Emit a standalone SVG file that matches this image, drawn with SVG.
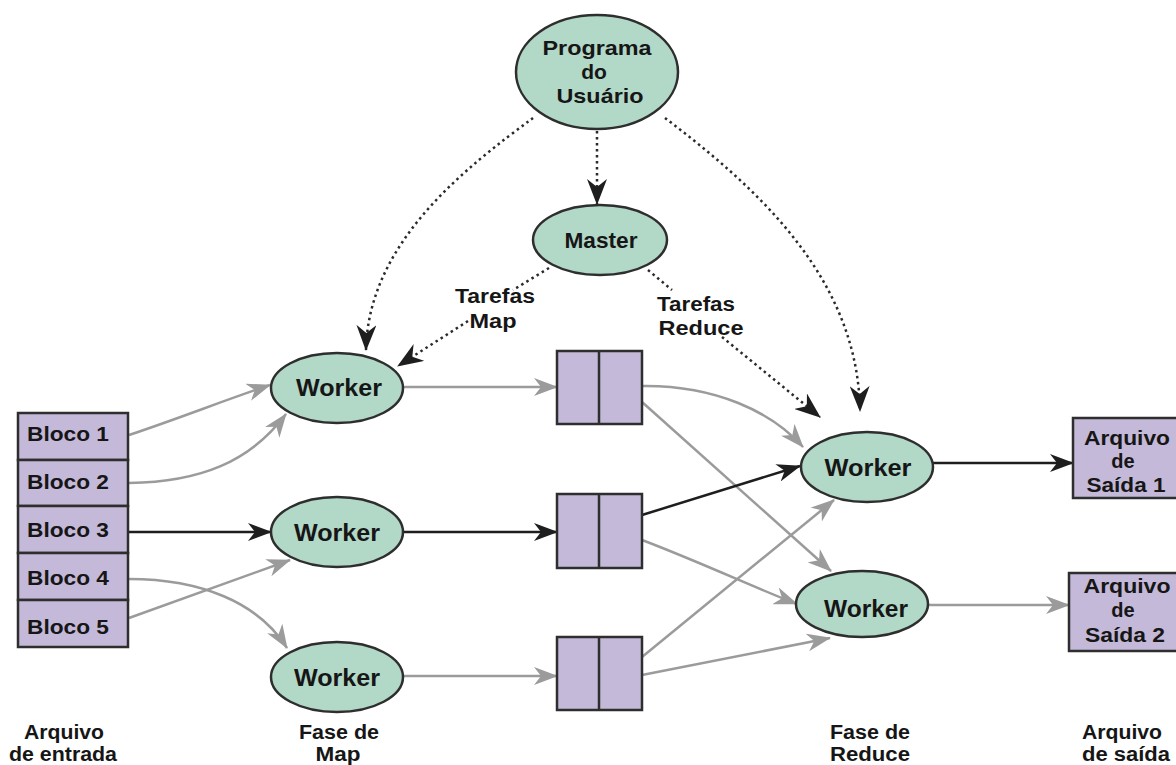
<svg xmlns="http://www.w3.org/2000/svg" width="1176" height="765" viewBox="0 0 1176 765">
  <defs>
    <style>
      .t { font-family: "Liberation Sans", Arial, sans-serif; font-weight: bold; fill: #161616; }
      .f20 { font-size: 20px; }
      .f21 { font-size: 21px; }
      .f22 { font-size: 22px; }
      .f23 { font-size: 23px; }
      .node { fill: #b2d8c8; stroke: #2e2e2e; stroke-width: 2.5; }
      .box { fill: #c4b9d8; stroke: #2e2e2e; stroke-width: 2.5; }
      .gray { fill: none; stroke: #9b9b9b; stroke-width: 2.5; marker-end: url(#headGray); }
      .dark { fill: none; stroke: #1e1e1e; stroke-width: 2.5; marker-end: url(#headDark); }
      .dot { fill: none; stroke: #2a2a2a; stroke-width: 2.5; stroke-dasharray: 2.5 3.5; }
      .dotArrow { marker-end: url(#headDot); }
    </style>
    <marker id="headGray" viewBox="0 0 24 18" refX="23" refY="9" markerWidth="24" markerHeight="18" markerUnits="userSpaceOnUse" orient="auto">
      <path d="M0,0 L24,9 L0,18 L7,9 Z" fill="#9b9b9b"/>
    </marker>
    <marker id="headDark" viewBox="0 0 24 18" refX="23" refY="9" markerWidth="24" markerHeight="18" markerUnits="userSpaceOnUse" orient="auto">
      <path d="M0,0 L24,9 L0,18 L7,9 Z" fill="#1e1e1e"/>
    </marker>
    <marker id="headDot" viewBox="0 0 26 20" refX="25" refY="10" markerWidth="26" markerHeight="20" markerUnits="userSpaceOnUse" orient="auto">
      <path d="M0,0 L26,10 L0,20 L8,10 Z" fill="#1e1e1e"/>
    </marker>
  </defs>

  <rect width="1176" height="765" fill="#ffffff"/>

  <!-- connectors -->
  <g id="connectors">
    <!-- control flow (dotted) -->
    <path class="dot dotArrow" d="M597,131 L597,204"/>
    <path class="dot dotArrow" d="M533,118 C468,166 368,242 366,350"/>
    <path class="dot dotArrow" d="M665,118 C760,190 858,280 860,411"/>
    <path class="dot" d="M549,268 L513,290"/>
    <path class="dot dotArrow" d="M468,321 L398,366"/>
    <path class="dot" d="M648,270 L672,290"/>
    <path class="dot dotArrow" d="M722,337 L820,417"/>

    <!-- input blocks to map workers -->
    <path class="gray" d="M129,435 C180,418 225,400 270,385"/>
    <path class="gray" d="M129,483 C200,482 250,462 286,414"/>
    <path class="dark" d="M129,532 L271,532"/>
    <path class="gray" d="M129,579 C200,579 258,602 287,648"/>
    <path class="gray" d="M129,618 L290,560"/>

    <!-- map workers to intermediate files -->
    <path class="gray" d="M403,387 L557,387"/>
    <path class="dark" d="M403,532 L557,532"/>
    <path class="gray" d="M403,676 L557,676"/>

    <!-- intermediate files to reduce workers -->
    <path class="gray" d="M642,386 C715,385 772,412 803,447"/>
    <path class="gray" d="M642,402 L831,571"/>
    <path class="dark" d="M642,515 L800,466"/>
    <path class="gray" d="M642,540 C700,562 760,590 797,604"/>
    <path class="gray" d="M642,657 L834,500"/>
    <path class="gray" d="M642,675 L830,638"/>

    <!-- reduce workers to output files -->
    <path class="dark" d="M933,463 L1073,463"/>
    <path class="gray" d="M928,605 L1069,605"/>
  </g>

  <!-- user program -->
  <g id="programa">
    <ellipse class="node" cx="597" cy="72" rx="81" ry="57"/>
    <text class="t f21" x="597" y="55" text-anchor="middle" textLength="109" lengthAdjust="spacingAndGlyphs">Programa</text>
    <text class="t f21" x="594" y="79" text-anchor="middle">do</text>
    <text class="t f21" x="600" y="103" text-anchor="middle" textLength="87" lengthAdjust="spacingAndGlyphs">Usuário</text>
  </g>

  <!-- master -->
  <g id="master">
    <ellipse class="node" cx="600" cy="240" rx="67" ry="35"/>
    <text class="t f22" x="601" y="248" text-anchor="middle" textLength="73" lengthAdjust="spacingAndGlyphs">Master</text>
  </g>

  <!-- edge labels -->
  <g id="label-map">
    <text class="t f20" x="495" y="303" text-anchor="middle" textLength="80" lengthAdjust="spacingAndGlyphs">Tarefas</text>
    <text class="t f20" x="493" y="328" text-anchor="middle" textLength="47" lengthAdjust="spacingAndGlyphs">Map</text>
  </g>
  <g id="label-reduce">
    <text class="t f20" x="696" y="311" text-anchor="middle" textLength="78" lengthAdjust="spacingAndGlyphs">Tarefas</text>
    <text class="t f20" x="701" y="335" text-anchor="middle" textLength="85" lengthAdjust="spacingAndGlyphs">Reduce</text>
  </g>

  <!-- input file blocks -->
  <g id="entrada">
    <rect class="box" x="18" y="413" width="110" height="47"/>
    <rect class="box" x="18" y="460" width="110" height="46"/>
    <rect class="box" x="18" y="506" width="110" height="47"/>
    <rect class="box" x="18" y="553" width="110" height="47"/>
    <rect class="box" x="18" y="600" width="110" height="47"/>
    <text class="t f20" x="27" y="441" textLength="82" lengthAdjust="spacingAndGlyphs">Bloco 1</text>
    <text class="t f20" x="27" y="489" textLength="82" lengthAdjust="spacingAndGlyphs">Bloco 2</text>
    <text class="t f20" x="27" y="537" textLength="82" lengthAdjust="spacingAndGlyphs">Bloco 3</text>
    <text class="t f20" x="27" y="585" textLength="82" lengthAdjust="spacingAndGlyphs">Bloco 4</text>
    <text class="t f20" x="27" y="634" textLength="82" lengthAdjust="spacingAndGlyphs">Bloco 5</text>
  </g>

  <!-- map workers -->
  <g id="map-worker-1">
    <ellipse class="node" cx="337" cy="388" rx="66" ry="35"/>
    <text class="t f23" x="339" y="396" text-anchor="middle" textLength="86" lengthAdjust="spacingAndGlyphs">Worker</text>
  </g>
  <g id="map-worker-2">
    <ellipse class="node" cx="337" cy="532" rx="66" ry="35"/>
    <text class="t f23" x="337" y="541" text-anchor="middle" textLength="86" lengthAdjust="spacingAndGlyphs">Worker</text>
  </g>
  <g id="map-worker-3">
    <ellipse class="node" cx="337" cy="677" rx="66" ry="35"/>
    <text class="t f23" x="337" y="686" text-anchor="middle" textLength="86" lengthAdjust="spacingAndGlyphs">Worker</text>
  </g>

  <!-- intermediate files -->
  <g id="intermediario-1">
    <rect class="box" x="557" y="351" width="85" height="73"/>
    <line x1="599" y1="351" x2="599" y2="424" stroke="#2e2e2e" stroke-width="2.5"/>
  </g>
  <g id="intermediario-2">
    <rect class="box" x="557" y="494" width="85" height="74"/>
    <line x1="599" y1="494" x2="599" y2="568" stroke="#2e2e2e" stroke-width="2.5"/>
  </g>
  <g id="intermediario-3">
    <rect class="box" x="557" y="637" width="85" height="73"/>
    <line x1="599" y1="637" x2="599" y2="710" stroke="#2e2e2e" stroke-width="2.5"/>
  </g>

  <!-- reduce workers -->
  <g id="reduce-worker-1">
    <ellipse class="node" cx="867" cy="467" rx="66" ry="35"/>
    <text class="t f23" x="868" y="476" text-anchor="middle" textLength="87" lengthAdjust="spacingAndGlyphs">Worker</text>
  </g>
  <g id="reduce-worker-2">
    <ellipse class="node" cx="862" cy="604" rx="66" ry="33"/>
    <text class="t f23" x="866" y="617" text-anchor="middle" textLength="84" lengthAdjust="spacingAndGlyphs">Worker</text>
  </g>

  <!-- output files -->
  <g id="saida-1">
    <rect class="box" x="1073" y="418" width="112" height="80"/>
    <text class="t f20" x="1127" y="445" text-anchor="middle" textLength="86" lengthAdjust="spacingAndGlyphs">Arquivo</text>
    <text class="t f20" x="1123" y="468" text-anchor="middle">de</text>
    <text class="t f20" x="1126" y="492" text-anchor="middle" textLength="79" lengthAdjust="spacingAndGlyphs">Saída 1</text>
  </g>
  <g id="saida-2">
    <rect class="box" x="1069" y="573" width="115" height="78"/>
    <text class="t f20" x="1127" y="593" text-anchor="middle" textLength="87" lengthAdjust="spacingAndGlyphs">Arquivo</text>
    <text class="t f20" x="1123" y="617" text-anchor="middle">de</text>
    <text class="t f20" x="1125" y="642" text-anchor="middle" textLength="80" lengthAdjust="spacingAndGlyphs">Saída 2</text>
  </g>

  <!-- column captions -->
  <g id="legenda">
    <text class="t f20" x="64" y="739" text-anchor="middle" textLength="80" lengthAdjust="spacingAndGlyphs">Arquivo</text>
    <text class="t f20" x="63" y="761" text-anchor="middle" textLength="108" lengthAdjust="spacingAndGlyphs">de entrada</text>
    <text class="t f20" x="339" y="739" text-anchor="middle" textLength="80" lengthAdjust="spacingAndGlyphs">Fase de</text>
    <text class="t f20" x="338" y="761" text-anchor="middle" textLength="45" lengthAdjust="spacingAndGlyphs">Map</text>
    <text class="t f20" x="870" y="739" text-anchor="middle" textLength="80" lengthAdjust="spacingAndGlyphs">Fase de</text>
    <text class="t f20" x="870" y="761" text-anchor="middle" textLength="80" lengthAdjust="spacingAndGlyphs">Reduce</text>
    <text class="t f20" x="1122" y="739" text-anchor="middle" textLength="80" lengthAdjust="spacingAndGlyphs">Arquivo</text>
    <text class="t f20" x="1126" y="761" text-anchor="middle" textLength="88" lengthAdjust="spacingAndGlyphs">de saída</text>
  </g>
</svg>
